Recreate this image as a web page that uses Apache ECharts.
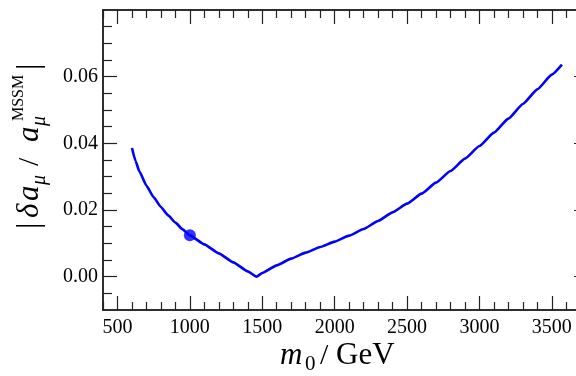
<!DOCTYPE html>
<html><head><meta charset="utf-8">
<script src="https://cdn.jsdelivr.net/npm/echarts@6/dist/echarts.min.js"></script>
<style>html,body{margin:0;padding:0;background:#fff}#c{width:576px;height:376px}</style>
</head><body><div id="c"></div>
<script>
// m0 in GeV
const m0 = [600, 625, 650, 700, 750, 800, 850, 900, 950, 1000, 1100, 1200, 1300, 1400, 1460,
  1500, 1600, 1700, 1800, 1900, 2000, 2100, 2200, 2300, 2400, 2500, 2600, 2700, 2800, 2900,
  3000, 3100, 3200, 3300, 3400, 3500, 3570];
// |delta a_mu / a_mu^MSSM|
const ratio = [0.0386, 0.0347, 0.0317, 0.0273, 0.0238, 0.0209, 0.0184, 0.0162, 0.0142, 0.0124,
  0.0097, 0.0070, 0.0043, 0.0016, 0.0000,
  0.0011, 0.0034, 0.0054, 0.0072, 0.0089, 0.0105, 0.0123, 0.0143, 0.0167, 0.0193, 0.0219,
  0.0249, 0.0282, 0.0317, 0.0354, 0.0392, 0.0432, 0.0474, 0.0518, 0.0562, 0.0606, 0.0636];
const markerM0 = [1000];
const markerRatio = [0.0124];

const xLabels = [500, 1000, 1500, 2000, 2500, 3000, 3500];
const xMajorTicks = [500, 1000, 1500, 2000, 2500, 3000, 3500];
const xMinorTicks = [400, 600, 700, 800, 900, 1100, 1200, 1300, 1400, 1600, 1700, 1800, 1900,
  2100, 2200, 2300, 2400, 2600, 2700, 2800, 2900, 3100, 3200, 3300, 3400, 3600, 3700];
const yLabels = [0, 0.02, 0.04, 0.06];
const yMajorTicks = [0, 0.02, 0.04, 0.06];
const yMinorTicks = [-0.005, 0.005, 0.01, 0.015, 0.025, 0.03, 0.035, 0.045, 0.05, 0.055, 0.065, 0.07, 0.075];

const SERIF = '"Liberation Serif", "Times New Roman", serif';
const AX = '#222';

function xAxisDef(pos, ticks, len, labels) {
  return {
    type: 'value', position: pos, min: 400, max: 3750,
    axisLine: { show: true, onZero: false, lineStyle: { color: AX, width: 1.5 } },
    axisTick: { show: true, inside: true, length: len, customValues: ticks, lineStyle: { color: AX, width: 1.2 } },
    axisLabel: labels ? { show: true, customValues: labels, fontFamily: SERIF, fontSize: 20, color: '#000', margin: 8,
      formatter: v => String(Math.round(v)) } : { show: false },
    splitLine: { show: false }
  };
}
function yAxisDef(pos, ticks, len, labels) {
  return {
    type: 'value', position: pos, min: -0.01, max: 0.08,
    axisLine: { show: true, onZero: false, lineStyle: { color: AX, width: 1.5 } },
    axisTick: { show: true, inside: true, length: len, customValues: ticks, lineStyle: { color: AX, width: 1.2 } },
    axisLabel: labels ? { show: true, customValues: labels, fontFamily: SERIF, fontSize: 20, color: '#000', margin: 5,
      formatter: v => (Math.abs(v) < 1e-9 ? 0 : v).toFixed(2) } : { show: false },
    splitLine: { show: false }
  };
}

function T(text, x, y, size, italic) {
  return { type: 'text', x: x, y: y, style: { text: text, font: (italic ? 'italic ' : '') + size + 'px ' + SERIF,
    fill: '#000', verticalAlign: 'middle', align: 'left' } };
}

const chart = echarts.init(document.getElementById('c'), null, { renderer: 'canvas' });
chart.setOption({
  animation: false,
  backgroundColor: '#fff',
  grid: { left: 103, top: 10, width: 485, height: 300, containLabel: false, outerBoundsMode: 'none' },
  xAxis: [
    xAxisDef('bottom', xMajorTicks, 14, xLabels),
    xAxisDef('bottom', xMinorTicks, 8, null),
    xAxisDef('top', xMajorTicks, 14, null),
    xAxisDef('top', xMinorTicks, 8, null)
  ],
  yAxis: [
    yAxisDef('left', yMajorTicks, 14, yLabels),
    yAxisDef('left', yMinorTicks, 9, null),
    yAxisDef('right', yMajorTicks, 14, null),
    yAxisDef('right', yMinorTicks, 9, null)
  ],
  series: [
    { type: 'line', xAxisIndex: 0, yAxisIndex: 0, data: m0.map((x, i) => [x, ratio[i]]),
      showSymbol: false, smooth: 0.15, smoothMonotone: 'x', lineStyle: { color: '#0000ff', width: 2.6 } },
    { type: 'scatter', xAxisIndex: 0, yAxisIndex: 0, data: markerM0.map((x, i) => [x, markerRatio[i]]),
      symbol: 'circle', symbolSize: 12, itemStyle: { color: '#0000ff' } }
  ],
  graphic: [
    { type: 'group', x: 0, y: 0, children: [
      T('m', 280, 356, 31, true),
      T('0', 305, 364, 21, false),
      T('/', 320, 356, 30, false),
      T('GeV', 336, 356, 31, false)
    ]},
    { type: 'group', x: 40, y: 229, rotation: Math.PI / 2, children: [
      T('|', 0, -10, 32, false),
      T('δ', 11, -10, 31, true),
      T('a', 28, -10, 31, true),
      T('μ', 44, 0, 20, true),
      T('/', 63, -10, 30, false),
      T('a', 87, -10, 31, true),
      T('μ', 103, 0, 20, true),
      T('MSSM', 108, -21, 16, false),
      T('|', 159, -10, 32, false)
    ]}
  ]
});
</script></body></html>
